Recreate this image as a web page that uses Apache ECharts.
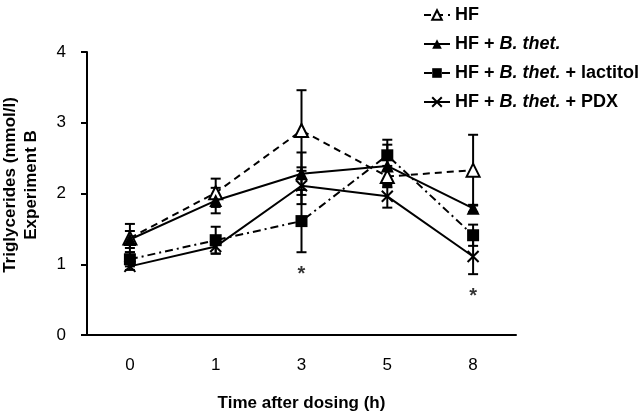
<!DOCTYPE html>
<html><head><meta charset="utf-8">
<script src="https://cdn.jsdelivr.net/npm/echarts@6/dist/echarts.min.js"></script>
<style>html,body{margin:0;padding:0;background:#fff}#c{width:641px;height:417px}</style>
</head><body><div id="c"></div>
<script>
const categories = ['0', '1', '3', '5', '8'];
const seriesNames = ['HF', 'HF + B. thet.', 'HF + B. thet. + lactitol', 'HF + B. thet. + PDX'];
const hfMean = [1.37, 2.01, 2.89, 2.24, 2.33];
const hfErr = [0.20, 0.20, 0.57, 0.15, 0.50];
const btMean = [1.35, 1.90, 2.28, 2.39, 1.79];
const btErr = [0.12, 0.18, 0.30, 0.30, 0.05];
const lacMean = [1.07, 1.34, 1.61, 2.54, 1.41];
const lacErr = [0.10, 0.19, 0.44, 0.22, 0.15];
const pdxMean = [0.97, 1.25, 2.11, 1.96, 1.11];
const pdxErr = [0.05, 0.10, 0.26, 0.16, 0.25];
const asteriskPoints = [[2, 0.86], [4, 0.55]];
const yTicks = [0, 1, 2, 3, 4];

const FONT = '"Liberation Sans", Arial, sans-serif';

function errData(mean, err) {
  return mean.map((m, i) => [i, m - err[i], m + err[i]]);
}
function renderErr(params, api) {
  const x = api.value(0);
  const lo = api.coord([x, api.value(1)]);
  const hi = api.coord([x, api.value(2)]);
  const w = 5;
  const st = { stroke: '#000', lineWidth: 2 };
  return { type: 'group', children: [
    { type: 'line', shape: { x1: hi[0], y1: hi[1], x2: lo[0], y2: lo[1] }, style: st },
    { type: 'line', shape: { x1: hi[0] - w, y1: hi[1], x2: hi[0] + w, y2: hi[1] }, style: st },
    { type: 'line', shape: { x1: lo[0] - w, y1: lo[1], x2: lo[0] + w, y2: lo[1] }, style: st }
  ]};
}
function errSeries(mean, err) {
  return { type: 'custom', renderItem: renderErr, data: errData(mean, err),
    encode: { x: 0, y: [1, 2] }, z: 1, silent: true };
}

const xSym = 'path://M0,0L10,10M10,0L0,10';

const chart = echarts.init(document.getElementById('c'), null, { renderer: 'canvas' });
chart.setOption({
  animation: false,
  backgroundColor: '#fff',
  grid: { left: 87, right: 125, top: 52, bottom: 81 },
  legend: {
    data: seriesNames,
    orient: 'vertical',
    left: 418, top: 1,
    itemGap: 11,
    itemWidth: 26, itemHeight: 12,
    textStyle: { fontFamily: FONT, fontSize: 18, fontWeight: 'bold', color: '#000',
      rich: { i: { fontFamily: FONT, fontSize: 18, fontWeight: 'bold', fontStyle: 'italic', color: '#000' } } },
    formatter: n => n.replace('B. thet.', '{i|B. thet.}')
  },
  graphic: [{
    type: 'text', x: 21, y: 185, rotation: Math.PI / 2,
    style: { text: 'Triglycerides (mmol/l)\nExperiment B', fontFamily: FONT, fontSize: 17,
      fontWeight: 'bold', fill: '#000', align: 'center', verticalAlign: 'middle', lineHeight: 21 }
  }],
  xAxis: {
    type: 'category', data: categories, boundaryGap: true,
    name: 'Time after dosing (h)', nameLocation: 'middle', nameGap: 60,
    nameTextStyle: { fontFamily: FONT, fontSize: 17, fontWeight: 'bold', color: '#000' },
    axisLine: { lineStyle: { color: '#000', width: 2 } },
    axisTick: { alignWithLabel: true, length: 6, lineStyle: { color: '#000', width: 2 } },
    axisLabel: { fontFamily: FONT, fontSize: 17, color: '#000', margin: 22 }
  },
  yAxis: {
    type: 'value', min: yTicks[0], max: yTicks[yTicks.length - 1], interval: 1,
    splitLine: { show: false },
    axisLine: { show: true, lineStyle: { color: '#000', width: 2 } },
    axisTick: { show: true, length: 6, lineStyle: { color: '#000', width: 2 } },
    axisLabel: { fontFamily: FONT, fontSize: 17, color: '#000', margin: 21 }
  },
  series: [
    errSeries(hfMean, hfErr), errSeries(btMean, btErr), errSeries(lacMean, lacErr), errSeries(pdxMean, pdxErr),
    { name: seriesNames[0], type: 'line', data: hfMean, z: 3, symbol: 'emptyTriangle', symbolSize: 13,
      color: '#000', lineStyle: { color: '#000', width: 2, type: [7, 5] },
      itemStyle: { color: '#000', borderColor: '#000', borderWidth: 2 } },
    { name: seriesNames[1], type: 'line', data: btMean, z: 3, symbol: 'triangle', symbolSize: 13,
      color: '#000', lineStyle: { color: '#000', width: 2 }, itemStyle: { color: '#000' } },
    { name: seriesNames[2], type: 'line', data: lacMean, z: 3, symbol: 'rect', symbolSize: 12,
      color: '#000', lineStyle: { color: '#000', width: 2, type: [8, 4, 2, 4] }, itemStyle: { color: '#000' } },
    { name: seriesNames[3], type: 'line', data: pdxMean, z: 3, symbol: xSym, symbolSize: 11,
      color: '#000', lineStyle: { color: '#000', width: 2 },
      itemStyle: { color: '#000', borderColor: '#000', borderWidth: 2 } },
    { type: 'scatter', data: asteriskPoints, symbolSize: 0, z: 4, silent: true,
      label: { show: true, position: 'inside', formatter: '*', fontFamily: FONT, fontSize: 20,
        fontWeight: 'bold', color: '#000' } }
  ]
});
</script></body></html>
